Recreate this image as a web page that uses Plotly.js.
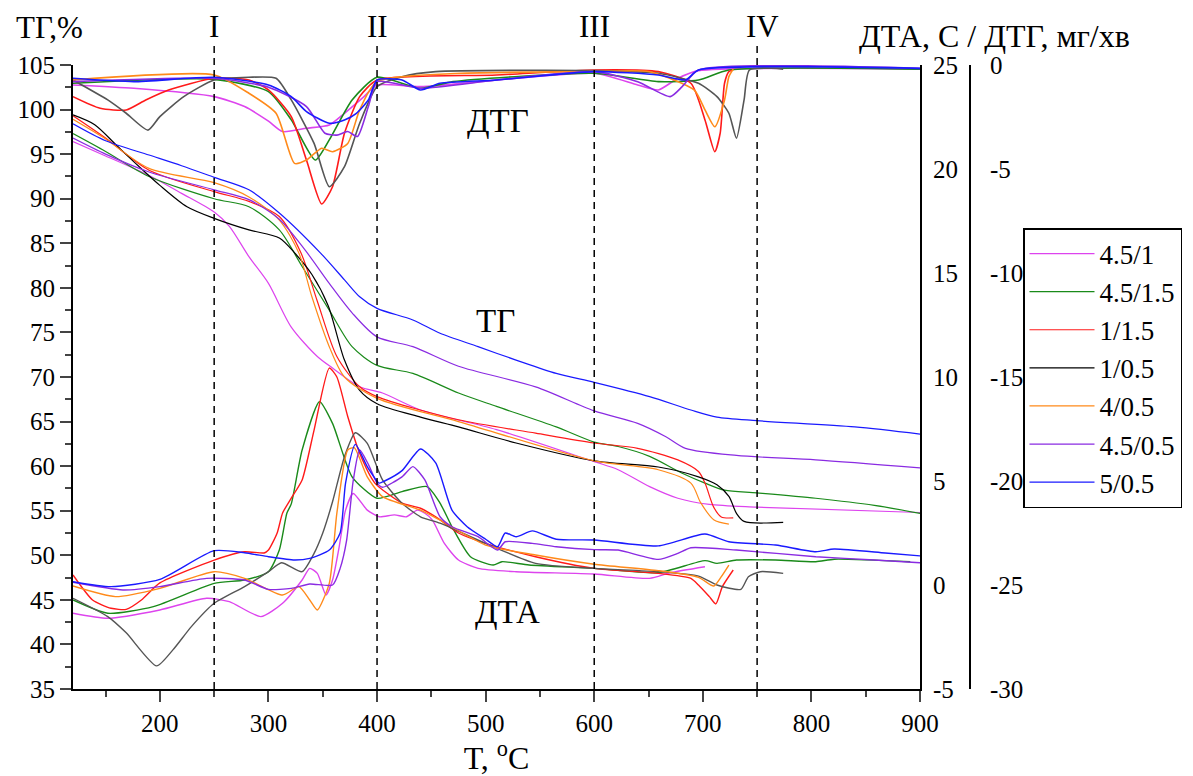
<!DOCTYPE html>
<html>
<head>
<meta charset="utf-8">
<script src="https://cdn.plot.ly/plotly-3.0.1.min.js"></script>
<style>html,body{margin:0;padding:0;background:#fff;}#chart{width:1193px;height:776px;}</style>
</head>
<body>
<div id="chart"></div>
<script>
// ---------- Series names ----------
const seriesNames = ["4.5/1", "4.5/1.5", "1/1.5", "1/0.5", "4/0.5", "4.5/0.5", "5/0.5"];

// ---------- ТГ, % (left axis) ----------
const tgT_45_1  = [120,150,190,220,250,264,282,300,321,345,359,384,405,440,510,600,622,651,677,706,750,900];
const tgV_45_1  = [96.4,94.8,92.6,90.6,88.5,86.9,83.5,80.5,75.6,72.3,71.0,68.9,68.2,66.3,64.1,60.5,59.6,57.7,56.4,55.7,55.4,54.8];
const tgT_45_15 = [120,150,190,250,282,310,331,356,377,400,433,475,510,565,600,622,651,681,702,720,750,804,858,900];
const tgV_45_15 = [97.3,95.3,92.5,90.0,89.1,86.5,82.4,77.5,73.4,71.3,70.4,68.2,66.7,64.4,62.7,62.2,61.1,59.2,58.1,57.3,57.0,56.4,55.6,54.7];
const tgT_1_15  = [120,150,190,250,282,310,330,345,363,384,400,475,546,600,640,677,696,702,710,717,728];
const tgV_1_15  = [99.3,96.8,93.2,90.8,89.7,88.0,83.9,78.5,72.3,68.9,67.8,65.2,63.7,62.6,62.0,60.7,59.4,58.1,55.4,54.3,54.2];
const tgT_1_05  = [120,140,160,180,200,225,250,282,310,325,340,355,370,384,400,440,475,528,600,659,696,713,724,731,738,774];
const tgV_1_05  = [99.4,98.3,96.0,93.7,91.5,89.1,87.8,86.5,85.6,83.8,81.5,78.0,71.9,68.5,67.0,65.5,64.4,62.6,60.6,59.9,58.8,57.9,56.6,54.7,53.8,53.7];
const tgT_4_05  = [120,150,190,250,282,310,328,340,356,370,400,475,600,659,689,698,710,724];
const tgV_4_05  = [98.9,96.7,93.4,91.8,90.2,87.6,83.9,79.0,73.4,70.0,67.6,65.0,60.6,59.6,58.1,55.9,54.0,53.5];
const tgT_45_05 = [120,150,190,250,282,310,334,356,377,400,433,475,546,600,640,666,684,731,804,900];
const tgV_45_05 = [96.8,95.0,93.0,91.0,89.9,87.7,84.2,80.5,77.2,74.5,73.4,71.2,68.9,66.2,64.8,63.3,62.0,61.2,60.7,59.8];
const tgT_5_05  = [120,150,190,220,250,282,310,348,370,384,400,433,458,493,528,565,600,651,689,713,750,840,900];
const tgV_5_05  = [98.4,96.5,94.9,93.7,92.4,91.0,88.4,83.9,80.9,79.0,77.7,76.4,74.9,73.4,71.9,70.4,69.4,67.8,66.3,65.5,65.1,64.4,63.6];

// ---------- ДТА (right axis, -5..25) ----------
const dtaT_45_1  = [120,152,200,243,264,293,313,331,338,345,353,359,365,371,378,391,402,416,427,437,444,451,462,475,493,528,600,651,670,702];
const dtaV_45_1  = [-1.36,-1.6,-1.2,-0.64,-0.8,-1.52,-0.88,0.24,0.8,0.56,-0.48,0.24,1.8,3.6,4.4,3.6,3.28,3.37,3.28,3.6,3.45,3.12,2.0,1.2,0.8,0.64,0.53,0.32,0.59,0.88];
const dtaT_45_15 = [120,152,194,250,278,300,310,317,321,331,347,359,377,400,423,446,458,469,486,507,515,540,600,659,702,713,731,767,804,821,891];
const dtaV_45_15 = [-0.72,-1.36,-1.04,0.08,0.24,0.64,1.68,3.46,3.9,6.49,8.81,7.77,5.2,4.17,4.49,4.73,3.94,2.8,1.36,0.96,1.12,0.96,0.8,0.59,1.17,1.04,1.2,1.2,1.12,1.24,1.12];
const dtaT_1_15  = [120,138,155,169,183,200,250,278,296,300,308,313,321,331,342,356,363,373,384,398,423,440,454,475,500,546,600,659,689,696,706,712,718,728];
const dtaV_1_15  = [0.48,-0.72,-1.12,-1.17,-0.72,0.1,1.2,1.6,1.54,1.68,2.5,3.46,4.18,5.05,7.45,10.43,10.0,8.1,6.33,4.9,3.94,3.69,3.28,2.5,2.0,1.36,0.8,0.56,0.32,0.0,-0.56,-0.91,-0.08,0.72];
const dtaT_1_05  = [120,152,169,197,212,229,250,278,300,312,331,342,350,359,370,380,391,405,423,440,458,500,546,600,659,696,713,735,742,753,774];
const dtaV_1_05  = [-0.64,-1.52,-2.3,-3.89,-3.12,-2.0,-0.88,-0.08,0.64,1.07,0.64,1.52,2.5,4.0,6.17,7.32,6.81,5.05,3.93,3.28,2.97,2.0,1.04,0.8,0.64,0.43,0.0,-0.21,0.4,0.64,0.56];
const dtaT_4_05  = [120,159,200,250,278,313,328,338,345,356,363,373,379,391,405,440,458,500,546,600,659,696,710,717,724];
const dtaV_4_05  = [-0.05,-0.56,-0.16,0.64,0.32,-0.48,-0.08,-0.72,-1.2,0.08,3.46,6.49,6.6,5.2,4.25,3.6,3.12,1.92,1.44,1.0,0.69,0.37,-0.05,0.4,0.96];
const dtaT_45_05 = [120,166,200,243,278,300,321,338,359,366,372,378,384,392,400,405,423,433,444,458,469,493,511,518,543,565,600,622,659,677,689,731,804,858,900];
const dtaV_45_05 = [0.13,-0.24,-0.08,0.32,0.24,-0.21,-0.16,0.05,0.0,0.8,2.16,5.0,6.49,5.8,4.9,4.7,5.2,5.69,5.05,3.28,2.8,2.32,1.68,2.08,2.0,1.84,1.7,1.68,1.23,1.52,1.79,1.68,1.36,1.2,1.07];
const dtaT_5_05  = [120,155,200,250,278,300,324,338,356,366,371,380,391,402,407,423,440,454,469,483,500,511,518,528,543,565,600,659,702,724,767,804,821,868,900];
const dtaV_5_05  = [0.16,-0.08,0.27,1.65,1.55,1.36,1.2,1.28,1.68,2.5,4.9,6.76,5.69,4.9,5.0,5.5,6.54,5.87,3.6,2.8,2.2,1.84,2.5,2.32,2.6,2.2,2.16,1.88,2.45,2.08,1.92,1.6,1.73,1.54,1.4];

// ---------- ДТГ, мг/хв (second right axis, -30..0) ----------
const dtgT_45_1  = [120,176,250,278,300,313,335,356,370,388,400,440,600,640,659,677,696,900];
const dtgV_45_1  = [-0.96,-1.12,-1.52,-2.0,-2.7,-3.2,-3.04,-2.88,-2.32,-1.52,-0.96,-1.04,-0.4,-0.96,-1.2,-0.64,-0.27,-0.2];
const dtgT_45_15 = [120,250,300,321,343,356,377,400,440,470,600,659,696,724,900];
const dtgV_45_15 = [-0.88,-0.69,-1.28,-2.64,-4.57,-3.6,-1.68,-0.59,-1.12,-0.8,-0.4,-0.8,-0.72,-0.24,-0.2];
const dtgT_1_15  = [120,145,169,187,208,250,282,300,321,335,349,359,370,384,400,510,600,659,689,702,711,716,720,724,728];
const dtgV_1_15  = [-1.52,-2.08,-2.16,-1.68,-1.2,-0.64,-0.72,-1.2,-2.48,-4.57,-6.68,-5.85,-3.28,-1.52,-0.72,-0.48,-0.24,-0.32,-0.88,-2.64,-4.17,-3.28,-0.88,-0.32,-0.24];
const dtgT_1_05  = [120,152,169,189,200,222,250,282,307,321,342,356,370,384,400,423,454,600,659,696,713,724,731,738,743,774];
const dtgV_1_05  = [-0.72,-1.68,-2.32,-3.13,-2.48,-1.52,-0.72,-0.59,-0.64,-1.68,-3.77,-5.85,-4.89,-2.8,-1.04,-0.56,-0.32,-0.27,-0.4,-0.88,-1.52,-2.32,-3.52,-1.68,-0.24,-0.2];
const dtgT_4_05  = [120,250,282,307,324,335,349,359,373,384,400,600,651,692,702,711,720,724,728];
const dtgV_4_05  = [-0.72,-0.48,-1.36,-2.32,-4.73,-4.57,-4.0,-4.17,-3.77,-2.16,-0.8,-0.32,-0.32,-1.2,-2.16,-2.97,-1.68,-0.56,-0.2];
const dtgT_45_05 = [120,250,300,335,352,363,373,382,392,400,440,510,600,640,670,681,696,900];
const dtgV_45_05 = [-0.8,-0.64,-1.07,-2.0,-3.28,-3.37,-3.2,-3.44,-2.0,-0.8,-1.12,-0.72,-0.32,-0.8,-1.52,-1.04,-0.24,-0.16];
const dtgT_5_05  = [120,176,250,300,321,335,356,370,381,392,400,423,440,458,510,600,659,684,696,900];
const dtgV_5_05  = [-0.64,-0.8,-0.59,-0.96,-1.52,-2.24,-2.8,-2.64,-2.32,-1.68,-0.72,-0.72,-1.2,-0.88,-0.72,-0.32,-0.48,-0.72,-0.24,-0.16];

// ---------- Axis ticks and stage markers ----------
const xTicks = [200, 300, 400, 500, 600, 700, 800, 900];
const tgTicks = [35, 40, 45, 50, 55, 60, 65, 70, 75, 80, 85, 90, 95, 100, 105];
const dtaTicks = [-5, 0, 5, 10, 15, 20, 25];
const dtgTicks = [-30, -25, -20, -15, -10, -5, 0];
const stageT = [250, 400, 600, 750];
const stageLabels = ["I", "II", "III", "IV"];

// ---------- Build ----------
const colors = ["#dd44ee", "#1a8a1a", "#ff1a1a", "#000000", "#ff8a1a", "#8a2be2", "#1a1aff"];
const curveColors = ["#dd44ee", "#1a8a1a", "#ff1a1a", "#555555", "#ff8a1a", "#8a2be2", "#1a1aff"];
const tgT = [tgT_45_1, tgT_45_15, tgT_1_15, tgT_1_05, tgT_4_05, tgT_45_05, tgT_5_05];
const tgV = [tgV_45_1, tgV_45_15, tgV_1_15, tgV_1_05, tgV_4_05, tgV_45_05, tgV_5_05];
const dtaT = [dtaT_45_1, dtaT_45_15, dtaT_1_15, dtaT_1_05, dtaT_4_05, dtaT_45_05, dtaT_5_05];
const dtaV = [dtaV_45_1, dtaV_45_15, dtaV_1_15, dtaV_1_05, dtaV_4_05, dtaV_45_05, dtaV_5_05];
const dtgT = [dtgT_45_1, dtgT_45_15, dtgT_1_15, dtgT_1_05, dtgT_4_05, dtgT_45_05, dtgT_5_05];
const dtgV = [dtgV_45_1, dtgV_45_15, dtgV_1_15, dtgV_1_05, dtgV_4_05, dtgV_45_05, dtgV_5_05];

const traces = [];
for (let i = 0; i < seriesNames.length; i++) {
  traces.push({x: dtgT[i], y: dtgV[i], yaxis: 'y3', type: 'scatter', mode: 'lines',
    line: {color: curveColors[i], width: 1.6, shape: 'spline', smoothing: 0.6}, showlegend: false, hoverinfo: 'skip'});
  traces.push({x: dtaT[i], y: dtaV[i], yaxis: 'y2', type: 'scatter', mode: 'lines',
    line: {color: curveColors[i], width: 1.4, shape: 'spline', smoothing: 0.6}, showlegend: false, hoverinfo: 'skip'});
}
for (let i = 0; i < seriesNames.length; i++) {
  traces.push({x: tgT[i], y: tgV[i], yaxis: 'y', type: 'scatter', mode: 'lines', name: seriesNames[i],
    line: {color: colors[i], width: 1.2, shape: 'spline', smoothing: 0.8}});
}

const FONT = "Liberation Serif, Times New Roman, serif";
const W = 1193, H = 776, L = 73, R = 3, T = 65, B = 87;
const pw = W - L - R, ph = H - T - B;
const xEnd = (920 - L) / pw;
const px = p => (p - L) / pw;
const py = p => 1 + (T - p) / ph;

const shapes = stageT.map(t => ({type: 'line', xref: 'x', yref: 'paper', x0: t, x1: t, y0: 0, y1: py(41),
  line: {color: '#000', width: 1.5, dash: '7px,5px'}}));

const annotations = [];
function addText(xv, xr, yv, text, size, xshift) {
  annotations.push({x: xv, xref: xr, y: yv, yref: 'paper', text: text, showarrow: false,
    xanchor: 'center', yanchor: 'middle', xshift: xshift || 0, font: {family: FONT, size: size, color: '#000'}});
}
stageT.forEach((t, i) => addText(t, 'x', py(26), stageLabels[i], 31, i === 3 ? 5 : 0));
addText(px(49), 'paper', py(27), 'ТГ,%', 31);
addText(px(994), 'paper', py(36), 'ДТА, С / ДТГ, мг/хв', 32);
addText(px(498), 'paper', py(121), 'ДТГ', 33);
addText(px(495), 'paper', py(321), 'ТГ', 33);
addText(px(507), 'paper', py(612), 'ДТА', 33);

const tickFont = {family: FONT, size: 25, color: '#000'};
const layout = {
  width: W, height: H,
  margin: {l: L, r: R, t: T, b: B, pad: 0},
  paper_bgcolor: '#fff', plot_bgcolor: '#fff',
  font: {family: FONT, color: '#000'},
  showlegend: true,
  legend: {x: px(1023), y: py(228), xanchor: 'left', yanchor: 'top', bgcolor: '#fff',
    bordercolor: '#000', borderwidth: 1.5, font: {family: FONT, size: 27, color: '#000'},
    itemwidth: 65, tracegroupgap: 0},
  xaxis: {domain: [0, xEnd], range: [120, 900], tickvals: xTicks, ticks: 'outside', ticklen: 11, tickwidth: 2,
    showline: true, linewidth: 2, linecolor: '#000', showgrid: false, zeroline: false, tickfont: tickFont,
    minor: {dtick: 50, tick0: 0, ticks: 'outside', ticklen: 6, tickwidth: 2, showgrid: false},
    title: {text: 'T, <sup>o</sup>C', font: {family: FONT, size: 32, color: '#000'}, standoff: 6}},
  yaxis: {range: [35, 105], tickvals: tgTicks, ticks: 'outside', ticklen: 11, tickwidth: 2,
    showline: true, linewidth: 2, linecolor: '#000', showgrid: false, zeroline: false, tickfont: tickFont,
    minor: {dtick: 2.5, tick0: 0, ticks: 'outside', ticklen: 6, tickwidth: 2, showgrid: false}},
  yaxis2: {overlaying: 'y', side: 'right', anchor: 'x', range: [-5, 25], tickvals: dtaTicks,
    ticktext: dtaTicks.map(v => String(v)), ticks: '',
    showline: true, linewidth: 2, linecolor: '#000', showgrid: false, zeroline: false, tickfont: tickFont, ticklabelstandoff: 6},
  yaxis3: {overlaying: 'y', side: 'right', anchor: 'free', position: px(970), range: [-30, 0], tickvals: dtgTicks,
    ticktext: dtgTicks.map(v => String(v)), ticks: '',
    showline: true, linewidth: 2, linecolor: '#000', showgrid: false, zeroline: false, tickfont: tickFont, ticklabelstandoff: 14},
  shapes: shapes,
  annotations: annotations
};

Plotly.newPlot('chart', traces, layout, {displayModeBar: false, staticPlot: true});
</script>
</body>
</html>
